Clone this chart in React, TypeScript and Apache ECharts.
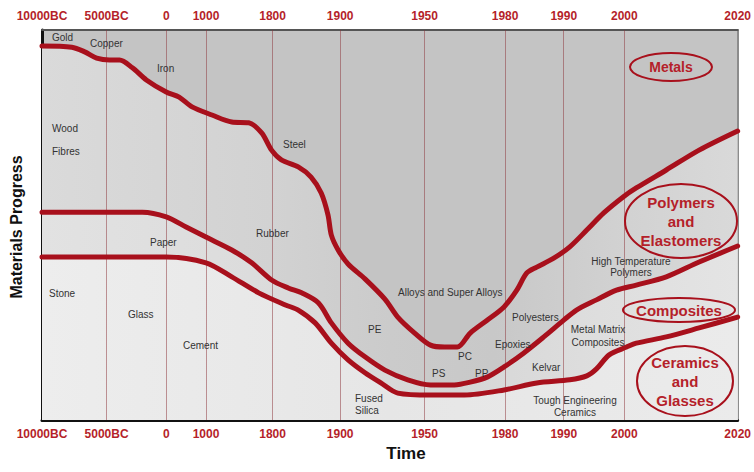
import React, { useEffect, useRef } from "react";
import * as echarts from "echarts";

// Time axis: labelled years and their place on the stretched time scale
const tickLabels = ["10000BC", "5000BC", "0", "1000", "1800", "1900", "1950", "1980", "1990", "2000", "2020"];
const tickYears = [-10000, -5000, 0, 1000, 1800, 1900, 1950, 1980, 1990, 2000, 2020];
const tickScale = [0, 65, 125, 165, 232, 300, 385, 466, 525, 586, 700];

// Boundary: Metals / Polymers
const metalsYears = [-10000, -7692, -6692, -5769, -4750, -3917, -2833, -1667, 0, 325, 650, 1072, 1310, 1513, 1669, 1788, 1813, 1838, 1857, 1872, 1882, 1887, 1897, 1904.7, 1914.7, 1926.5, 1934.1, 1944.1, 1952.2, 1957.4, 1962.2, 1967, 1973.3, 1979.6, 1982, 1983.7, 1985.4, 1988.3, 1991, 1993.8, 1996.6, 1999.8, 2002.1, 2007.4, 2013.2, 2020];
const metalsProgress = [95.9, 95.6, 94.4, 92.8, 92.3, 92.3, 90.3, 87.2, 84.1, 82.8, 80.3, 78.2, 76.4, 76.2, 73.6, 69.2, 66.7, 64.9, 62.3, 58.2, 52.6, 47.4, 43.6, 40.0, 36.2, 31.0, 26.4, 22.3, 19.2, 18.7, 18.7, 22.3, 25.6, 29.0, 33.3, 37.7, 39.2, 41.5, 44.4, 48.7, 53.1, 57.2, 59.5, 64.1, 69.2, 74.1];

// Boundary: Polymers / Composites
const polymersYears = [-10000, -2000, 0, 500, 1000, 1310, 1549, 1788, 1824, 1843, 1868, 1887, 1904.7, 1914.7, 1926.5, 1940, 1952.2, 1961.1, 1967, 1973.3, 1979.6, 1983.2, 1986.6, 1990, 1992.1, 1995.4, 1998.7, 2002.1, 2007.4, 2013.2, 2020];
const polymersProgress = [53.3, 53.3, 52.1, 49.5, 46.9, 43.6, 40.3, 35.9, 33.8, 32.6, 30.0, 24.9, 19.7, 16.2, 12.8, 10.3, 9.0, 9.0, 9.7, 11.0, 13.6, 17.2, 21.3, 25.6, 28.2, 30.8, 33.3, 34.6, 36.7, 40.5, 44.6];

// Boundary: Composites / Ceramics
const ceramicsYears = [-10000, 0, 1000, 1310, 1633, 1819, 1838, 1863, 1887, 1904.7, 1914.7, 1924.1, 1934.1, 1952.2, 1964.8, 1979.6, 1985.4, 1991, 1993.8, 1995.4, 1997.5, 2000.4, 2002.1, 2007.4, 2013.2, 2020];
const ceramicsProgress = [41.8, 41.8, 40.3, 36.7, 32.6, 29.5, 28.2, 24.9, 19.7, 15.4, 12.1, 9.5, 6.9, 6.4, 6.4, 7.7, 9.5, 10.3, 11.3, 13.1, 16.7, 18.7, 19.7, 21.3, 23.6, 26.4];

const materialNames = ["Gold", "Copper", "Iron", "Wood", "Fibres", "Steel", "Rubber", "Paper", "Stone", "Glass", "Cement", "Fused\nSilica", "PE", "Alloys and Super Alloys", "PC", "PS", "PP", "Polyesters", "Epoxies", "Kelvar"];
const centredNames = ["High Temperature\nPolymers", "Metal Matrix\nComposites", "Tough Engineering\nCeramics"];
const familyNames = ["Metals", "Polymers\nand\nElastomers", "Composites", "Ceramics\nand\nGlasses"];

// layout (pixels)
const materialPos = [[52, 37], [90, 43], [157, 68], [52, 128], [52, 151], [283, 144], [256, 233], [150, 242], [49, 293], [128, 314], [183, 345], [355, 404], [368, 329], [398, 292], [458, 356], [432, 373], [475, 373], [512, 317], [495, 344], [532, 367]];
const centredPos = [[631, 267, 11], [598, 336, 13], [575, 406, 12]];
const familyEllipses = [[671, 67, 41, 14], [681, 221, 56, 37], [679, 310, 56, 12], [685, 381, 48, 35]];

function toScale(year: number): number {
  for (let i = 0; i < tickYears.length - 1; i++) {
    if (year <= tickYears[i + 1]) {
      const f = (year - tickYears[i]) / (tickYears[i + 1] - tickYears[i]);
      return tickScale[i] + f * (tickScale[i + 1] - tickScale[i]);
    }
  }
  return tickScale[tickScale.length - 1];
}

const pairs = (ys: number[], vs: number[]) => ys.map((y, i) => [toScale(y), vs[i]]);

const RED = "#a8101c";
const LABEL_RED = "#b51f2a";
const FONT = "'Liberation Sans', Arial, sans-serif";

function hGrad(stops: [number, string][]) {
  return new echarts.graphic.LinearGradient(0, 0, 1, 0, stops.map(([offset, color]) => ({ offset, color })));
}

export default function App() {
  const ref = useRef<HTMLDivElement>(null);
  useEffect(() => {
    if (!ref.current) return;
    const chart = echarts.init(ref.current, null, { renderer: "svg" });
    const metals = pairs(metalsYears, metalsProgress);
    const polymers = pairs(polymersYears, polymersProgress);
    const ceramics = pairs(ceramicsYears, ceramicsProgress);
    const smooth = 0.3;

    const xLabel = {
      customValues: tickScale,
      formatter: (v: number) => {
        const i = tickScale.indexOf(v);
        return i >= 0 ? tickLabels[i] : "";
      },
      color: LABEL_RED,
      fontWeight: "bold" as const,
      fontSize: 12,
      fontFamily: FONT,
      margin: 8,
    };

    const graphic: any[] = [];
    materialNames.forEach((t, i) => {
      graphic.push({
        type: "text",
        x: materialPos[i][0],
        y: materialPos[i][1],
        z: 100,
        style: { text: t, fill: "#333", font: `10px ${FONT}`, textAlign: "left", textVerticalAlign: "middle", lineHeight: 12 },
      });
    });
    centredNames.forEach((t, i) => {
      graphic.push({
        type: "text",
        x: centredPos[i][0],
        y: centredPos[i][1],
        z: 100,
        style: { text: t, fill: "#333", font: `10px ${FONT}`, textAlign: "center", textVerticalAlign: "middle", lineHeight: centredPos[i][2] },
      });
    });
    familyNames.forEach((t, i) => {
      const [cx, cy, rx, ry] = familyEllipses[i];
      graphic.push({
        type: "ellipse",
        z: 100,
        shape: { cx, cy, rx, ry },
        style: { fill: "none", stroke: RED, lineWidth: 2 },
      });
      graphic.push({
        type: "text",
        x: cx,
        y: cy,
        z: 101,
        style: { text: t, fill: LABEL_RED, font: `bold ${i === 0 ? 14 : 15}px ${FONT}`, textAlign: "center", textVerticalAlign: "middle", lineHeight: 19 },
      });
    });
    graphic.push({
      type: "text",
      x: 16,
      y: 227,
      rotation: Math.PI / 2,
      z: 100,
      style: { text: "Materials Progress", fill: "#111", font: `bold 16px ${FONT}`, textAlign: "center", textVerticalAlign: "middle" },
    });
    graphic.push({
      type: "text",
      x: 406,
      y: 453,
      z: 100,
      style: { text: "Time", fill: "#111", font: `bold 17px ${FONT}`, textAlign: "center", textVerticalAlign: "middle" },
    });

    const area = (data: number[][], color: any, z: number) => ({
      type: "line",
      data,
      smooth,
      symbol: "none",
      silent: true,
      z,
      lineStyle: { width: 0, opacity: 0 },
      areaStyle: { color, opacity: 1 },
    });
    const curve = (data: number[][]) => ({
      type: "line",
      data,
      smooth,
      symbol: "none",
      silent: true,
      z: 10,
      lineStyle: { color: RED, width: 5, cap: "round", join: "round" },
    });

    chart.setOption({
      animation: false,
      grid: { left: 42, right: 12, top: 30, bottom: 52, show: true, backgroundColor: "#c4c4c4", borderWidth: 0 },
      xAxis: [
        {
          type: "value", min: 0, max: 700, position: "bottom",
          axisLine: { show: true, onZero: false, lineStyle: { color: "#111", width: 3 } },
          axisTick: { show: false }, splitLine: { show: false },
          axisLabel: xLabel,
        },
        {
          type: "value", min: 0, max: 700, position: "top",
          axisLine: { show: true, onZero: false, lineStyle: { color: "#555", width: 2 } },
          axisTick: { show: false }, splitLine: { show: false },
          axisLabel: xLabel,
        },
      ],
      yAxis: [
        {
          type: "value", min: 0, max: 100, position: "left",
          axisLine: { show: true, onZero: false, lineStyle: { color: "#111", width: 3 } },
          axisTick: { show: false }, axisLabel: { show: false }, splitLine: { show: false },
        },
        {
          type: "value", min: 0, max: 100, position: "right",
          axisLine: { show: true, onZero: false, lineStyle: { color: "#8c8c8c", width: 2 } },
          axisTick: { show: false }, axisLabel: { show: false }, splitLine: { show: false },
        },
      ],
      series: [
        area(metals, hGrad([[0, "#dadada"], [0.33, "#d2d2d2"], [0.5, "#cbcbcb"], [0.65, "#c8c8c8"], [0.8, "#d0d0d0"], [1, "#d9d9d9"]]), 1),
        area(polymers, hGrad([[0, "#e2e2e2"], [0.4, "#dadada"], [0.6, "#d6d6d6"], [0.8, "#dedede"], [1, "#e4e4e4"]]), 2),
        area(ceramics, hGrad([[0, "#ededed"], [0.5, "#e6e6e6"], [1, "#ebebeb"]]), 3),
        {
          type: "line",
          data: ceramics,
          symbol: "none",
          silent: true,
          z: 4,
          lineStyle: { opacity: 0, width: 0 },
          markLine: {
            silent: true,
            symbol: ["none", "none"],
            label: { show: false },
            lineStyle: { color: "rgba(140,50,55,0.5)", width: 1, type: "solid" },
            data: tickScale.slice(1, -1).map((x) => ({ xAxis: x })),
          },
        },
        curve(metals),
        curve(polymers),
        curve(ceramics),
      ],
      graphic,
    });
    return () => chart.dispose();
  }, []);
  return <div ref={ref} style={{ position: "fixed", left: 0, top: 0, width: 754, height: 472, background: "#fff" }} />;
}
